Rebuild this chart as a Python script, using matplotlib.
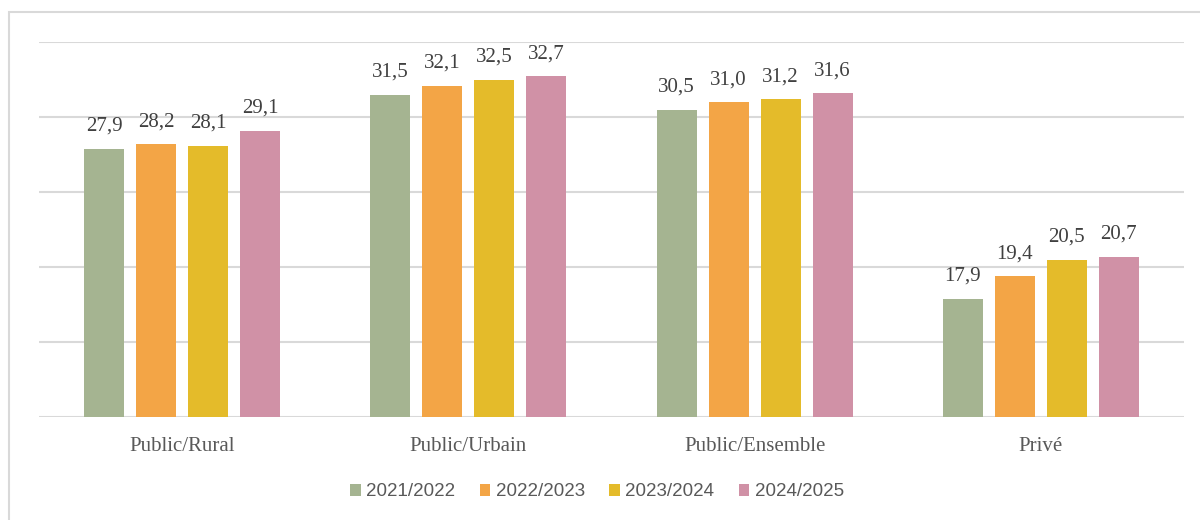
import numpy as np
from matplotlib import pyplot as plt
from matplotlib.patches import Rectangle

# Categories and series
categories = ["Public/Rural", "Public/Urbain", "Public/Ensemble", "Privé"]
years = ["2021/2022", "2022/2023", "2023/2024", "2024/2025"]
values_2122 = [27.9, 31.5, 30.5, 17.9]
values_2223 = [28.2, 32.1, 31.0, 19.4]
values_2324 = [28.1, 32.5, 31.2, 20.5]
values_2425 = [29.1, 32.7, 31.6, 20.7]
series = [values_2122, values_2223, values_2324, values_2425]
colors = ["#A5B491", "#F3A546", "#E4BB2A", "#D091A6"]


def main():
    fig = plt.figure(figsize=(12, 5.2), dpi=100)
    ax = fig.add_axes([39 / 1200, 1 - 417 / 520, 1145 / 1200, 375 / 520])

    # Outer frame of the chart
    fig.add_artist(Rectangle((9 / 1200, -0.1), 1.2, 1 - 12 / 520 + 0.1,
                             transform=fig.transFigure, fill=False,
                             edgecolor="#d9d9d9", linewidth=1.5))

    x = np.arange(len(categories))
    step = 52 / 286.25
    width = 40 / 286.25

    for i, (vals, col, lab) in enumerate(zip(series, colors, years)):
        pos = x + (i - 1.5) * step
        bars = ax.bar(pos, vals, width, color=col, label=lab, zorder=3)
        for b, v in zip(bars, vals):
            ax.annotate(f"{v:.1f}".replace(".", ","),
                        (b.get_x() + b.get_width() / 2, v),
                        xytext=(0, 9), textcoords="offset points",
                        ha="center", va="bottom", fontsize=15,
                        family="Liberation Serif", color="#404040")

    ax.set_xlim(-0.5, 3.5)
    ax.set_ylim(10, 35)
    ax.set_yticks(np.arange(10, 36, 5))
    ax.yaxis.grid(True, color="#d9d9d9", linewidth=1.5, zorder=0)
    ax.set_axisbelow(True)
    ax.tick_params(axis="y", left=False, labelleft=False)
    ax.tick_params(axis="x", bottom=False, pad=11)
    ax.set_xticks(x)
    ax.set_xticklabels(categories, fontsize=15, family="Liberation Serif",
                       color="#595959")
    for s in ax.spines.values():
        s.set_visible(False)

    fig.legend(loc="center", bbox_to_anchor=(597 / 1200, 1 - 492 / 520),
               ncol=4, frameon=False, handlelength=0.55, handleheight=0.55,
               handletextpad=0.3, columnspacing=1.3,
               prop={"family": "Liberation Sans", "size": 13.5},
               labelcolor="#595959")

    fig.savefig("out.png", dpi=100)


if __name__ == "__main__":
    main()
